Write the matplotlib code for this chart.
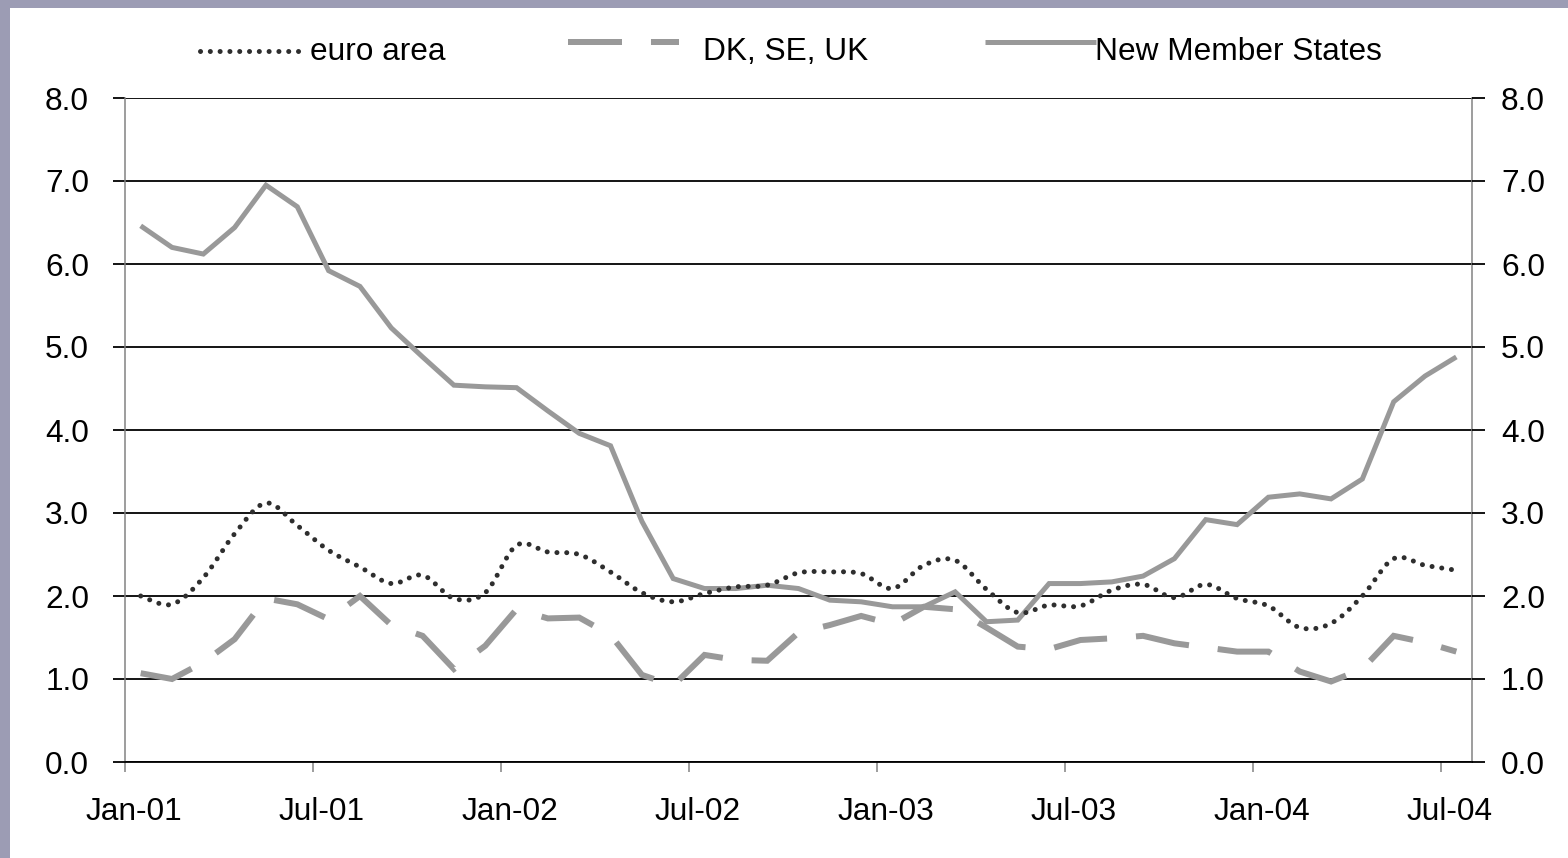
import numpy as np
import matplotlib
matplotlib.use("Agg")
import matplotlib.pyplot as plt
from matplotlib.lines import Line2D
from matplotlib.patches import Rectangle
from matplotlib.transforms import ScaledTranslation

# ---- data (monthly, Jan-01 .. Jul-04) ----
tick_labels = ["Jan-01", "Jul-01", "Jan-02", "Jul-02", "Jan-03", "Jul-03", "Jan-04", "Jul-04"]
series_names = ["euro area", "DK, SE, UK", "New Member States"]

euro_area = [2.00, 1.90, 2.22, 2.75, 3.12, 2.85, 2.55, 2.35, 2.15, 2.25,
             1.97, 2.04, 2.61, 2.53, 2.50, 2.29, 2.04, 1.93, 2.03, 2.11,
             2.13, 2.28, 2.29, 2.27, 2.09, 2.37, 2.43, 2.08, 1.80, 1.89,
             1.88, 2.07, 2.14, 1.98, 2.14, 1.97, 1.88, 1.62, 1.67, 2.00,
             2.45, 2.37, 2.31]

dk_se_uk = [1.07, 1.00, 1.20, 1.48, 1.97, 1.90, 1.72, 2.00, 1.65, 1.52,
            1.12, 1.40, 1.84, 1.73, 1.74, 1.53, 1.05, 0.92, 1.29, 1.23,
            1.22, 1.56, 1.65, 1.76, 1.66, 1.87, 1.84, 1.62, 1.39, 1.36,
            1.47, 1.49, 1.52, 1.43, 1.38, 1.33, 1.33, 1.09, 0.97, 1.12,
            1.52, 1.44, 1.33]

new_member_states = [6.46, 6.20, 6.12, 6.44, 6.95, 6.69, 5.92, 5.73, 5.23, 4.88,
                     4.54, 4.52, 4.51, 4.23, 3.96, 3.81, 2.90, 2.21, 2.09, 2.09,
                     2.13, 2.09, 1.95, 1.93, 1.87, 1.87, 2.05, 1.69, 1.71, 2.15,
                     2.15, 2.17, 2.24, 2.45, 2.92, 2.86, 3.19, 3.23, 3.17, 3.41,
                     4.34, 4.65, 4.88]

y_ticks = [0, 1, 2, 3, 4, 5, 6, 7, 8]

# ---- geometry / style ----
W, H, DPI = 1568, 858, 100
PX = 72.0 / DPI            # points per pixel
FONT = "Liberation Sans"
FS = 22.8
GREY = "#999999"
DOT = "#2e2e2e"
BORDER = "#9c9cb4"

plt.rcParams["font.family"] = [FONT, "DejaVu Sans"]


def smoothed(xs, ys, steps=20):
    """Bezier curve through the points with Catmull-Rom tangents."""
    pts = np.column_stack([xs, ys]).astype(float)
    n = len(pts)
    out = []
    for i in range(n - 1):
        p0 = pts[i - 1] if i > 0 else pts[i]
        p1, p2 = pts[i], pts[i + 1]
        p3 = pts[i + 2] if i + 2 < n else pts[i + 1]
        c1 = p1 + (p2 - p0) / 6.0
        c2 = p2 - (p3 - p1) / 6.0
        t = np.linspace(0, 1, steps, endpoint=(i == n - 2))[:, None]
        seg = ((1 - t) ** 3) * p1 + 3 * ((1 - t) ** 2) * t * c1 + 3 * (1 - t) * t ** 2 * c2 + t ** 3 * p2
        out.append(seg)
    out = np.vstack(out)
    return out[:, 0], out[:, 1]


fig = plt.figure(figsize=(W / DPI, H / DPI), dpi=DPI)
fig.patch.set_facecolor(BORDER)
fig.patches.append(Rectangle((10 / W, 0), 1, 1 - 8 / H, transform=fig.transFigure,
                             facecolor="white", edgecolor="none", zorder=-10))

left, right, top, bottom = 125, 1472, 98, 762
ax = fig.add_axes([left / W, 1 - bottom / H, (right - left) / W, (bottom - top) / H])
ax.set_facecolor("white")

n = len(euro_area)
x = np.arange(n)

# series
nms_style = dict(color=GREY, lw=5 * PX, solid_capstyle="butt", solid_joinstyle="miter")
dk_style = dict(color=GREY, lw=6 * PX, linestyle=(0, (9.0, 4.83)), dash_capstyle="butt",
                dash_joinstyle="miter")
eu_style = dict(color=DOT, lw=5 * PX, linestyle=(0, (0.01, 1.95)), dash_capstyle="round")

ax.plot(x, new_member_states, zorder=3, **nms_style)
ax.plot(x, dk_se_uk, zorder=4, **dk_style)
sx, sy = smoothed(x, euro_area)
ax.plot(sx, sy, zorder=5, **eu_style)

ax.set_xlim(-0.5, n - 0.5)
ax.set_ylim(0, 8)

# y axis + grid
ax.set_yticks(y_ticks)
ax.set_yticklabels([f"{v:.1f}" for v in y_ticks])
ax.yaxis.grid(True, color="black", lw=1.8 * PX)
ax.set_axisbelow(True)
ax.tick_params(axis="y", direction="out", length=12 * PX, width=1.8 * PX, color="black",
               labelsize=FS, pad=24 * PX, left=True, right=False)

# x axis: ticks on category boundaries every six months
xt = [-0.5 + 6 * k for k in range(len(tick_labels))]
ax.set_xticks(xt)
ax.set_xticklabels(tick_labels)
ax.tick_params(axis="x", direction="out", length=10 * PX, width=1.5 * PX, color="#808080",
               labelsize=FS, pad=25 * PX)
shift = ScaledTranslation(9 / DPI, 0, fig.dpi_scale_trans)
for lab in ax.get_xticklabels():
    lab.set_transform(lab.get_transform() + shift)

ax.spines["top"].set_visible(False)
ax.spines["bottom"].set_color("black")
ax.spines["bottom"].set_linewidth(1.8 * PX)
for side in ("left", "right"):
    ax.spines[side].set_color("#808080")
    ax.spines[side].set_linewidth(1.5 * PX)

# secondary (right) value axis
ax2 = ax.twinx()
ax2.set_ylim(0, 8)
ax2.set_yticks(y_ticks)
ax2.set_yticklabels([f"{v:.1f}" for v in y_ticks])
ax2.tick_params(axis="y", direction="out", length=13 * PX, width=1.8 * PX, color="black",
                labelsize=FS, pad=16 * PX)
for side in ("top", "bottom", "left", "right"):
    ax2.spines[side].set_visible(False)


# legend across the top
def fx(px):
    return px / W


def fy(py):
    return 1 - py / H


fig.add_artist(Line2D([fx(200), fx(305)], [fy(51), fy(51)], transform=fig.transFigure, **eu_style))
fig.text(fx(310), fy(60), series_names[0], fontsize=FS, va="baseline", ha="left")

fig.add_artist(Line2D([fx(568), fx(679)], [fy(42), fy(42)], transform=fig.transFigure, **dk_style))
fig.text(fx(703), fy(60), series_names[1], fontsize=FS, va="baseline", ha="left")

fig.add_artist(Line2D([fx(985), fx(1096)], [fy(42), fy(42)], transform=fig.transFigure, **nms_style))
fig.text(fx(1095), fy(60), series_names[2], fontsize=FS, va="baseline", ha="left")

fig.savefig("out.png", dpi=DPI, facecolor=fig.get_facecolor())
